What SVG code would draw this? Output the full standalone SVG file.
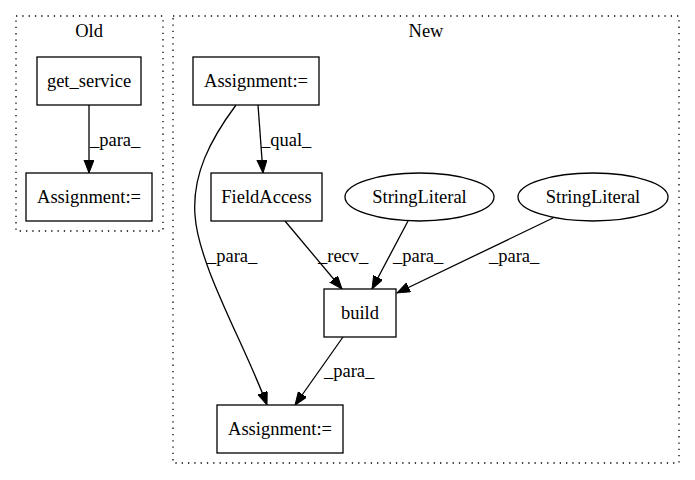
<svg xmlns="http://www.w3.org/2000/svg" width="695" height="480" viewBox="0 0 695 480">
<style>
.cl{fill:none;stroke:#000;stroke-width:1.3;stroke-dasharray:1.3,5}
.nd{fill:#fff;stroke:#000;stroke-width:1.3}
.t{font-family:"Liberation Serif","Times New Roman",serif;font-size:18.5px;fill:#000}
.c{text-anchor:middle}
.e{fill:none;stroke:#000;stroke-width:1.3}
</style>
<defs>
<marker id="ah" markerUnits="userSpaceOnUse" markerWidth="14" markerHeight="12" refX="13" refY="5" orient="auto">
<path d="M0,0 L13,5 L0,10 Z" fill="#000" stroke="#000" stroke-width="1"/>
</marker>
</defs>
<rect width="695" height="480" fill="#fff"/>
<g id="cluster_old">
<rect class="cl" x="16" y="16" width="147" height="215"/>
<text class="t c" x="89" y="37">Old</text>
</g>
<g id="cluster_new">
<rect class="cl" x="173" y="16" width="506" height="447"/>
<text class="t c" x="426" y="37">New</text>
</g>
<g id="edges">
<path class="e" d="M89,105 L89,173" marker-end="url(#ah)"/>
<path class="e" d="M258,105 L263,173" marker-end="url(#ah)"/>
<path class="e" d="M236,105 C210,140 192,175 195,215 C198,265 245,345 267,405" marker-end="url(#ah)"/>
<path class="e" d="M285,221 L342,289" marker-end="url(#ah)"/>
<path class="e" d="M408,221 L372,289" marker-end="url(#ah)"/>
<path class="e" d="M553,218 L397,293" marker-end="url(#ah)"/>
<path class="e" d="M343,337 L295,405" marker-end="url(#ah)"/>
<text class="t" x="90" y="146">_para_</text>
<text class="t" x="261" y="146">_qual_</text>
<text class="t" x="207" y="262">_para_</text>
<text class="t" x="318" y="262">_recv_</text>
<text class="t" x="393" y="262">_para_</text>
<text class="t" x="489" y="262">_para_</text>
<text class="t" x="324" y="377">_para_</text>
</g>
<g id="get_service">
<rect class="nd" x="37" y="57" width="104" height="48"/>
<text class="t c" x="89" y="87">get_service</text>
</g>
<g id="old_assignment">
<rect class="nd" x="26" y="173" width="126" height="48"/>
<text class="t c" x="89" y="203">Assignment:=</text>
</g>
<g id="new_assignment_top">
<rect class="nd" x="193" y="57" width="126" height="48"/>
<text class="t c" x="256" y="87">Assignment:=</text>
</g>
<g id="field_access">
<rect class="nd" x="211" y="173" width="111" height="48"/>
<text class="t c" x="266.5" y="203">FieldAccess</text>
</g>
<g id="string_literal_1">
<ellipse class="nd" cx="419.5" cy="197" rx="74.5" ry="24"/>
<text class="t c" x="419.5" y="203">StringLiteral</text>
</g>
<g id="string_literal_2">
<ellipse class="nd" cx="593" cy="197" rx="75" ry="24"/>
<text class="t c" x="593" y="203">StringLiteral</text>
</g>
<g id="build">
<rect class="nd" x="324" y="289" width="72" height="48"/>
<text class="t c" x="360" y="319">build</text>
</g>
<g id="new_assignment_bottom">
<rect class="nd" x="217" y="405" width="126" height="48"/>
<text class="t c" x="280" y="435">Assignment:=</text>
</g>
</svg>
